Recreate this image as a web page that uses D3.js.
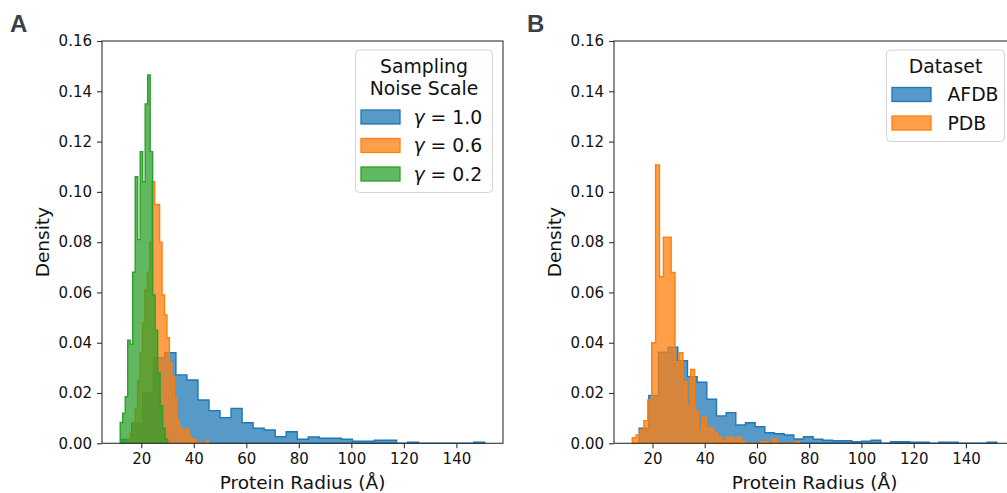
<!DOCTYPE html>
<html>
<head>
<meta charset="utf-8">
<script src="https://cdn.jsdelivr.net/npm/d3@7"></script>
<style>
  body { margin: 0; background: #fff; }
  svg { display: block; font-family: 'DejaVu Sans', sans-serif; }
</style>
</head>
<body>
<svg id="chart" width="1007" height="493"></svg>
<script>
// ---- data (density per bin) ----
const noiseScales = ['1.0', '0.6', '0.2'];
const noiseBinStart = [12.2, 14.9, 12.0];
const noiseBinWidth = [4.2, 0.93, 0.95];
const gamma10 = [0.0015, 0.008, 0.02, 0.034, 0.036, 0.0272, 0.0252, 0.0172, 0.013, 0.0102, 0.0139,
  0.0082, 0.006, 0.0053, 0.0026, 0.0046, 0.0016, 0.0025, 0.002, 0.002, 0.0016, 0.0008, 0.0008,
  0.0012, 0.0012, 0, 0.0004, 0, 0, 0, 0, 0, 0.0004];
const gamma06 = [0.0015, 0.004, 0.008, 0.014, 0.025, 0.036, 0.048, 0.061, 0.068, 0.080, 0.104,
  0.095, 0.095, 0.080, 0.059, 0.051, 0.042, 0.032, 0.0265, 0.018, 0.0093, 0.0066, 0.0053, 0.004,
  0.0056, 0.0029, 0.0016, 0.0016, 0, 0, 0, 0, 0.0008];
const gamma02 = [0.0083, 0.012, 0.0185, 0.041, 0.0394, 0.068, 0.106, 0.081, 0.116, 0.104, 0.135,
  0.1465, 0.116, 0.059, 0.045, 0.028, 0.015, 0.006, 0.0016];

const datasets = ['AFDB', 'PDB'];
const datasetBinStart = [14.9, 12.25];
const datasetBinWidth = [3.7, 1.49];
const afdb = [0.006, 0.019, 0.0362, 0.0382, 0.0329, 0.0265, 0.0243, 0.0175, 0.0109, 0.0122, 0.0073,
  0.0082, 0.0066, 0.0042, 0.0038, 0.0033, 0.0017, 0.0026, 0.0016, 0.0012, 0.001, 0.001, 0.0006,
  0.0008, 0.0012, 0, 0.0006, 0.0006, 0.0004, 0.0004, 0, 0.0004, 0.0004, 0, 0, 0, 0.0004];
const pdb = [0.0022, 0.0033, 0.0055, 0.009, 0.0172, 0.040, 0.1107, 0.0663, 0.082, 0.082, 0.0679,
  0.0325, 0.036, 0.0245, 0.015, 0.0294, 0.0126, 0.0046, 0.0103, 0.006, 0.006, 0.004, 0.0024, 0.001,
  0.0024, 0.0024, 0.0014, 0.0024, 0.0006, 0, 0, 0, 0, 0.0006, 0.0006, 0, 0.0016, 0, 0, 0, 0, 0, 0.0006];

const xTicks = [20, 40, 60, 80, 100, 120, 140];
const yTicks = [0, 0.02, 0.04, 0.06, 0.08, 0.10, 0.12, 0.14, 0.16];

const palette = ['#1f77b4', '#ff7f0e', '#2ca02c'];
const tickFont = 15;
const labelFont = 18.5;
const legendFont = 18.8;
const axTop = 41;
const axBottom = 443.3;
const axWidth = 401;

const svg = d3.select('#chart');

function drawPanel(opt) {
  const g = svg.append('g');
  const series = opt.values.map((vals, i) => {
    const pts = vals.map((v, k) => [opt.starts[i] + k * opt.widths[i], v]);
    pts.push([opt.starts[i] + vals.length * opt.widths[i], vals[vals.length - 1]]);
    return { pts, color: palette[i] };
  });

  // 5% margin around the data, like matplotlib
  const lo = d3.min(series, s => s.pts[0][0]);
  const hi = d3.max(series, s => s.pts[s.pts.length - 1][0]);
  const pad = (hi - lo) * 0.05;
  const x = d3.scaleLinear().domain([lo - pad, hi + pad]).range([opt.left, opt.left + axWidth]);
  const y = d3.scaleLinear().domain([0, 0.16]).range([axBottom, axTop]);

  const area = d3.area()
    .x(d => x(d[0]))
    .y0(y(0))
    .y1(d => y(d[1]))
    .curve(d3.curveStepAfter);

  g.selectAll('path.hist')
    .data(series)
    .enter()
    .append('path')
    .attr('class', 'hist')
    .attr('d', d => area(d.pts))
    .attr('fill', d => d.color)
    .attr('fill-opacity', 0.75)
    .attr('stroke', d => d.color)
    .attr('stroke-width', 1.4)
    .attr('stroke-linejoin', 'miter');

  // spines
  g.append('rect')
    .attr('x', opt.left)
    .attr('y', axTop)
    .attr('width', axWidth)
    .attr('height', axBottom - axTop)
    .attr('fill', 'none')
    .attr('stroke', '#333')
    .attr('stroke-width', 1.1);

  const xAxis = g.append('g')
    .attr('transform', `translate(0,${axBottom})`)
    .call(d3.axisBottom(x).tickValues(xTicks).tickSize(5).tickPadding(5));
  const yAxis = g.append('g')
    .attr('transform', `translate(${opt.left},0)`)
    .call(d3.axisLeft(y).tickValues(yTicks).tickFormat(d3.format('.2f')).tickSize(5).tickPadding(5));
  [xAxis, yAxis].forEach(a => {
    a.select('.domain').remove();
    a.selectAll('line').attr('stroke', '#333').attr('stroke-width', 1.1);
    a.selectAll('text')
      .attr('fill', '#111')
      .style('font-family', "'DejaVu Sans', sans-serif")
      .style('font-size', `${tickFont}px`);
  });

  g.append('text')
    .attr('x', opt.left + axWidth / 2)
    .attr('y', 489)
    .attr('text-anchor', 'middle')
    .attr('font-size', labelFont)
    .attr('fill', '#111')
    .text('Protein Radius (Å)');

  g.append('text')
    .attr('transform', `translate(${opt.left - 53.5},${(axTop + axBottom) / 2}) rotate(-90)`)
    .attr('text-anchor', 'middle')
    .attr('font-size', labelFont)
    .attr('fill', '#111')
    .text('Density');

  g.append('text')
    .attr('x', opt.letterX)
    .attr('y', 32)
    .attr('font-family', "'Liberation Sans', Arial, sans-serif")
    .attr('font-weight', 'bold')
    .attr('font-size', 24)
    .attr('fill', '#3b3f47')
    .text(opt.letter);

  // legend
  const lg = opt.legend;
  const boxRight = opt.left + axWidth - 10.5;
  const boxLeft = boxRight - lg.width;
  const boxTop = 50;
  const titleBase = boxTop + lg.titleOffset;
  const lineGap = 22;
  const lastTitle = titleBase + (lg.title.length - 1) * lineGap;
  const firstPatch = lastTitle + 15;
  const boxH = firstPatch + (lg.labels.length - 1) * 28.5 + 25.5 - boxTop;
  const leg = g.append('g');
  leg.append('rect')
    .attr('x', boxLeft)
    .attr('y', boxTop)
    .attr('width', lg.width)
    .attr('height', boxH)
    .attr('rx', 4)
    .attr('fill', '#fff')
    .attr('fill-opacity', 0.8)
    .attr('stroke', '#d4d4d4')
    .attr('stroke-width', 1);
  lg.title.forEach((t, i) => {
    leg.append('text')
      .attr('x', boxLeft + lg.width / 2)
      .attr('y', titleBase + i * lineGap)
      .attr('text-anchor', 'middle')
      .attr('font-size', legendFont)
      .attr('fill', '#111')
      .text(t);
  });
  const rows = leg.selectAll('g.row')
    .data(lg.labels)
    .enter()
    .append('g')
    .attr('class', 'row')
    .attr('transform', (d, i) => `translate(${boxLeft + 5.5},${firstPatch + i * 28.5})`);
  rows.append('rect')
    .attr('width', 39)
    .attr('height', 14)
    .attr('fill', (d, i) => palette[i])
    .attr('fill-opacity', 0.75)
    .attr('stroke', (d, i) => palette[i])
    .attr('stroke-width', 1.3);
  const lab = rows.append('text')
    .attr('x', lg.labelX)
    .attr('y', 13.8)
    .attr('font-size', legendFont)
    .attr('fill', '#111');
  lab.each(function (d) {
    const t = d3.select(this);
    if (lg.gamma) {
      t.append('tspan').attr('font-style', 'italic').text('γ');
      t.append('tspan').text(` = ${d}`);
    } else {
      t.text(d);
    }
  });
}

drawPanel({
  left: 102,
  letterX: 10,
  letter: 'A',
  values: [gamma10, gamma06, gamma02],
  starts: noiseBinStart,
  widths: noiseBinWidth,
  legend: { title: ['Sampling', 'Noise Scale'], titleOffset: 23, labels: noiseScales, gamma: true, width: 137, labelX: 52.5 }
});

drawPanel({
  left: 614,
  letterX: 527,
  letter: 'B',
  values: [afdb, pdb],
  starts: datasetBinStart,
  widths: datasetBinWidth,
  legend: { title: ['Dataset'], titleOffset: 22.5, labels: datasets, gamma: false, width: 118, labelX: 55.5 }
});
</script>
</body>
</html>
